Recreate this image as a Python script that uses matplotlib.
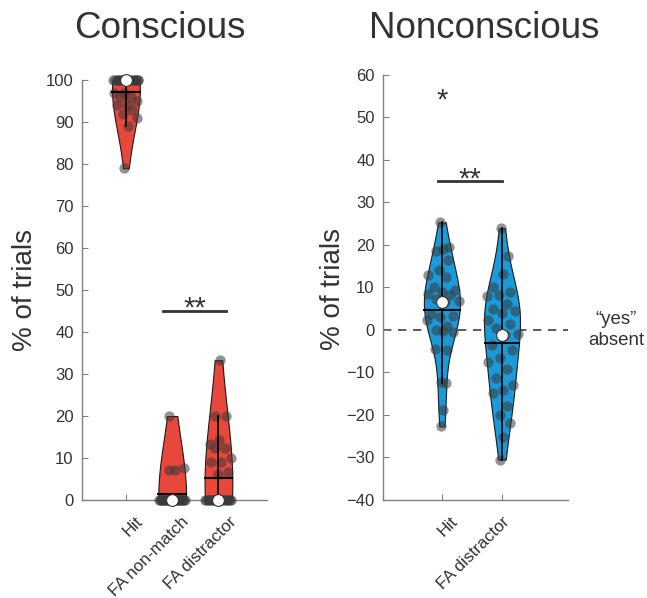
import numpy as np
import matplotlib.pyplot as plt
from matplotlib.transforms import ScaledTranslation

plt.rcParams['font.family'] = ['Liberation Sans', 'DejaVu Sans']

# 数据 (从图中读取的估计值, % of trials)
cons_labels = ['Hit', 'FA non-match', 'FA distractor']
cons_hit = [100, 100, 100, 100, 100, 100, 100, 100, 100, 100, 100, 100, 100, 100, 100, 100, 100, 100,
            97, 97, 96, 96, 95, 94, 94, 93, 92, 91, 89, 79]
cons_fa_nonmatch = [0, 0, 0, 0, 0, 0, 0, 0, 0, 0, 0, 0, 0, 0, 0, 0, 0, 0, 0, 0, 0, 0, 0, 0, 0, 0,
                    7.1, 7.7, 7.1, 20]
cons_fa_distractor = [0, 0, 0, 0, 0, 0, 0, 0, 0, 0, 0, 0, 0, 0, 0, 0, 0, 0, 0, 0,
                      33.3, 20, 20, 14.3, 13.3, 12.5, 12.5, 10, 9.1, 9.1, 6.7, 6.25]

non_labels = ['Hit', 'FA distractor']
non_hit = [25.3, 19.5, 19.1, 18.5, 16.5, 14.0, 13.0, 12.4, 10.0, 9.3, 9.0, 8.5, 8.1, 7.3, 6.8,
           6.5, 3.8, 3.3, 3.0, 2.3, 1.0, 0, -0.5, -0.3, -4.4, -4.8, -12.2, -12.6, -18.8, -22.7]
non_fa_distractor = [23.9, 17.5, 13.2, 10.2, 9.0, 8.2, 8.0, 6.2, 5.0, 4.4, 4.0, 2.3, 1.5, 0.5, -1.0,
                     -1.2, -3.6, -4.8, -6.7, -7.5, -9.1, -11.4, -13.0, -14.1, -14.9, -18.0, -20.0,
                     -22.0, -25.1, -30.5]

RED = '#e8473b'
BLUE = '#1b9ad9'
DARK = '#333333'
GRAY = '#808080'


def kde(vals, grid, bw):
    return np.exp(-0.5 * ((grid[:, None] - vals[None, :]) / bw) ** 2).sum(axis=1)


def violin(ax, pos, vals, color, bw, width=0.3):
    vals = np.asarray(vals, float)
    grid = np.linspace(vals.min(), vals.max(), 300)
    dens = kde(vals, grid, bw)
    dens = dens / dens.max()
    # 小提琴轮廓
    ax.fill_betweenx(grid, pos - width * dens, pos + width * dens, facecolor=color,
                     edgecolor='#1a1a1a', lw=0.8, zorder=3, clip_on=False)
    # 散点 (按密度确定的抖动)
    jit = ((np.arange(len(vals)) * 0.618034 + 0.31) % 1) * 2 - 1
    x = pos + jit * width * np.interp(vals, grid, dens)
    ax.scatter(x, vals, s=55, color='#3a3a3a', alpha=0.55, lw=0, zorder=4, clip_on=False)
    # 须线
    q1, q3 = np.percentile(vals, [25, 75])
    iqr = q3 - q1
    lo = vals[vals >= q1 - 1.5 * iqr].min()
    hi = vals[vals <= q3 + 1.5 * iqr].max()
    ax.plot([pos, pos], [lo, hi], color='k', lw=1.2, zorder=5, clip_on=False)
    # 均值线
    m = vals.mean()
    wm = width * np.interp(m, grid, dens)
    ax.plot([pos - wm, pos + wm], [m, m], color='k', lw=1.5, zorder=5, clip_on=False)
    # 中位数
    ax.plot(pos, np.median(vals), 'o', mfc='white', mec='#333333', ms=8.5, mew=0.8,
            zorder=6, clip_on=False)


def style(ax, labels, dxs):
    for s in ['top', 'right']:
        ax.spines[s].set_visible(False)
    for s in ['left', 'bottom']:
        ax.spines[s].set_color(GRAY)
        ax.spines[s].set_linewidth(1.0)
    ax.tick_params(direction='in', length=4, color=GRAY, labelcolor=DARK, labelsize=12)
    ax.tick_params(axis='y', pad=6)
    ax.tick_params(axis='x', pad=0)
    ax.set_xticks(range(1, len(labels) + 1))
    ax.set_xticklabels(labels, rotation=45, ha='right', va='top', rotation_mode='anchor',
                       fontsize=12.3)
    for lbl, dx in zip(ax.get_xticklabels(), dxs):
        lbl.set_transform(lbl.get_transform() + ScaledTranslation(dx / 100, -0.14, fig.dpi_scale_trans))


fig = plt.figure(figsize=(6.47, 5.98), dpi=100)

# 左图: Conscious
ax1 = fig.add_axes([0.1267, 0.1639, 0.286, 0.702])
for i, (vals, bw) in enumerate(zip([cons_hit, cons_fa_nonmatch, cons_fa_distractor], [9.5, 13, 16])):
    violin(ax1, i + 1, vals, RED, bw)
ax1.set_xlim(0.05, 4.05)
ax1.set_ylim(0, 100)
ax1.set_yticks(range(0, 101, 10))
style(ax1, cons_labels, [9, 9, 10])
ax1.plot([1.8, 3.17], [45, 45], color=DARK, lw=2, clip_on=False)
ax1.text(2.5, 43.7, '**', ha='center', va='baseline', fontsize=21, color=DARK)

# 右图: Nonconscious
ax2 = fig.add_axes([0.592, 0.1639, 0.286, 0.711])
for i, (vals, bw) in enumerate(zip([non_hit, non_fa_distractor], [5.5, 7])):
    violin(ax2, i + 1, vals, BLUE, bw)
ax2.set_xlim(0.02, 3.1)
ax2.set_ylim(-40, 60)
ax2.set_yticks(range(-40, 61, 10))
style(ax2, non_labels, [8, 0])
ax2.axhline(0, color='#404040', lw=1.2, ls=(0, (5, 4)), zorder=1)
ax2.plot([0.93, 2.0], [35, 35], color=DARK, lw=2, clip_on=False)
ax2.text(1.47, 33.5, '**', ha='center', va='baseline', fontsize=21, color=DARK)
ax2.text(1.0, 52.0, '*', ha='center', va='baseline', fontsize=21, color=DARK)
ax2.text(3.9, 0, '\u201cyes\u201d\nabsent', ha='center', va='center', fontsize=13.5,
         color=DARK, linespacing=1.3, clip_on=False)

# 标题和坐标轴标签
fig.text(0.247, 0.953, 'Conscious', ha='center', va='center', fontsize=26.5, color=DARK)
fig.text(0.748, 0.953, 'Nonconscious', ha='center', va='center', fontsize=26.5, color=DARK)
fig.text(0.0386, 0.515, '% of trials', ha='center', va='center', rotation=90, fontsize=20, color=DARK)
fig.text(0.515, 0.517, '% of trials', ha='center', va='center', rotation=90, fontsize=20, color=DARK)

plt.savefig('out.png', dpi=100)
